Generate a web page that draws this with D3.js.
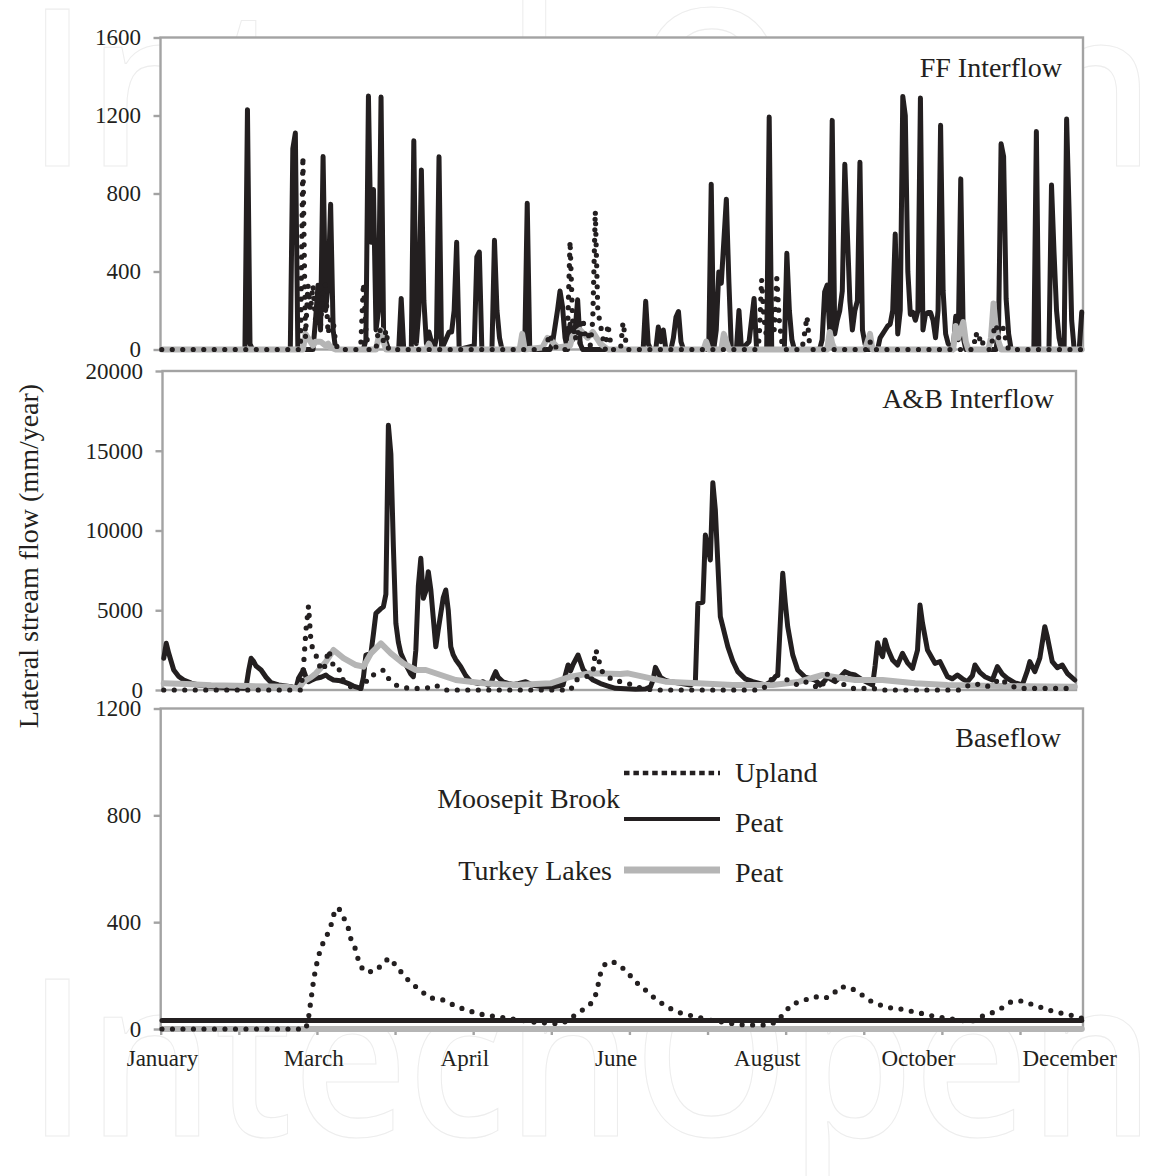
<!DOCTYPE html>
<html>
<head>
<meta charset="utf-8">
<script src="https://cdn.jsdelivr.net/npm/d3@7"></script>
<style>
  body { margin: 0; background: #fff; }
  svg text { font-family: "Liberation Serif", "Times New Roman", serif; fill: #231f20; }
</style>
</head>
<body>
<svg id="chart" width="1159" height="1176"></svg>
<script>
// --- data: [day of year, value] ---

const monthNames = ["January", "March", "April", "June", "August", "October", "December"];
const monthDays = [1, 61, 121, 181, 241, 301, 361];
const tickDays = [0.5, 31.5, 62.5, 93.5, 124.5, 155.5, 186.5, 217.5, 248.5, 279.5, 310.5, 341.5];

const ffTicks = [0, 400, 800, 1200, 1600];
const abTicks = [0, 5000, 10000, 15000, 20000];
const bfTicks = [0, 400, 800, 1200];

// FF interflow
const ffPeat = [
  [1,0],[34,0],[35,1230],[36,30],[37,0],
  [52,0],[53,1030],[54,1110],[55,0],
  [61,0],[62,150],[63,330],[64,100],[65,990],[66,200],[67,330],[68,745],[69,100],[70,0],
  [81,0],[82,50],[83,1300],[84,550],[85,820],[86,100],[87,200],[88,1295],[89,100],[90,40],[91,0],
  [95,0],[96,262],[97,0],
  [100,0],[101,1070],[102,30],[103,200],[104,921],[105,250],[106,30],[107,90],[108,40],[109,0],[110,60],[111,988],[112,0],
  [115,90],[116,90],[117,200],[118,550],[119,0],
  [125,20],[126,475],[127,500],[128,0],
  [132,0],[133,560],[134,200],[135,60],[136,0],
  [145,0],[146,750],[147,0],
  [155,0],[156,30],[158,200],[159,300],[160,220],[161,60],[162,0],[163,130],[164,50],[165,100],[166,255],[167,30],[168,0],
  [192,0],[193,247],[194,30],[195,0],
  [197,0],[198,115],[199,40],[200,100],[201,0],
  [203,0],[204,60],[205,165],[206,195],[207,40],[208,0],
  [218,0],[219,848],[220,0],[221,100],[222,398],[223,340],[225,771],[226,350],[227,0],
  [229,0],[230,200],[231,0],
  [234,40],[236,262],[237,0],
  [241,0],[242,1192],[243,0],
  [248,0],[249,493],[250,200],[251,50],[252,0],
  [262,0],[263,50],[264,295],[265,330],[266,100],[267,1175],[268,80],[269,150],[270,200],[271,300],[272,950],[273,600],[274,250],[275,100],[276,200],[277,250],[278,960],[279,100],[280,30],[281,0],
  [285,0],[286,60],[288,100],[289,120],[290,130],[291,200],[292,592],[293,80],[294,200],[295,1298],[296,1200],[297,400],[298,180],[299,190],[300,150],[301,200],[302,1290],[303,100],[304,180],[305,190],[306,190],[307,150],[308,60],[309,200],[310,1150],[311,300],[312,80],[313,30],
  [315,0],[316,170],[317,50],[318,875],[319,60],[320,0],
  [332,0],[333,100],[334,1055],[335,990],[336,260],[337,80],[338,0],
  [347,0],[348,1118],[349,0],
  [353,0],[354,844],[355,500],[356,200],[357,60],[358,0],
  [359,0],[360,1182],[361,700],[362,150],[363,0],[365,0],[366,192]
];
const ffUpland = [
  [1,0],[56,0],[57,990],[58,60],[59,330],[60,200],[61,330],[62,150],[63,290],[64,120],[65,330],[66,330],[67,80],[68,160],[69,150],[70,30],[71,0],
  [79,0],[80,30],[81,340],[82,100],[83,0],[86,0],[87,110],[88,90],[89,40],[90,100],[91,0],
  [153,0],[154,40],[155,80],[156,30],[157,20],[158,0],
  [161,0],[162,100],[163,557],[164,150],[165,50],[166,100],[167,30],[168,160],[169,80],[170,100],[171,20],[172,150],[173,710],[174,200],[175,130],[176,60],[177,0],[178,130],[179,40],[180,0],
  [183,0],[184,140],[185,50],[186,0],
  [237,0],[238,50],[239,360],[240,150],[241,60],[242,80],[243,200],[244,100],[245,365],[246,150],[247,40],[248,0],
  [255,0],[256,80],[257,170],[258,30],[259,0],
  [281,0],[282,40],[283,10],[284,0],
  [323,0],[324,85],[325,40],[326,70],[327,20],[328,0],
  [330,0],[331,90],[332,130],[333,60],[334,100],[335,110],[336,40],[337,0],
  [366,0]
];
const ffTurkey = [
  [1,0],[57,0],[58,80],[59,60],[60,40],[61,20],[62,40],[64,40],[66,20],[67,30],[68,10],[70,0],
  [86,0],[87,60],[88,100],[89,40],[90,0],
  [106,0],[107,30],[108,0],
  [143,0],[144,80],[145,0],
  [152,10],[154,60],[156,40],[158,10],
  [163,20],[164,70],[167,100],[170,60],[172,90],[175,30],[178,0],
  [216,0],[217,40],[218,0],
  [223,0],[224,80],[225,40],[226,0],
  [265,0],[266,90],[267,30],[268,0],
  [280,0],[281,40],[282,80],[283,0],
  [315,0],[316,120],[317,60],[319,140],[320,40],[321,0],
  [329,0],[330,60],[331,236],[332,100],[333,40],[334,0],
  [366,0]
];

// A&B interflow
const abPeat = [
  [1,1985],[2,2928],[3,2300],[5,1254],[7,850],[9,627],[12,430],[15,313],[20,220],[25,160],[30,120],[33,104],
  [34,200],[35,1200],[36,1987],[37,1800],[38,1500],[40,1254],[42,800],[44,460],[47,320],[52,209],[54,100],
  [55,733],[56,1000],[57,1254],[58,800],[59,522],[60,600],[62,733],[64,800],[66,940],[67,800],[69,627],[71,600],[73,520],[75,400],[77,250],[80,104],
  [81,800],[82,2194],[84,2298],[85,3500],[86,4807],[88,5100],[89,5224],[90,6000],[91,16600],[92,14800],[93,9000],[94,4180],[95,3000],[96,2298],[98,1600],[100,1000],[101,836],
  [102,2500],[103,6500],[104,8255],[105,5746],[106,6200],[107,7419],[108,6300],[109,4500],[110,2716],[111,3800],[112,4800],[113,5800],[114,6270],[115,5000],[116,2716],[117,2200],[118,1900],[120,1463],[122,900],[124,520],[126,450],[127,400],[129,520],[131,300],[132,400],[133,800],[134,1150],[135,800],[137,500],[139,418],[141,350],[143,400],[146,520],[149,300],[153,209],[157,200],[161,313],
  [162,1000],[163,1567],[164,1200],[165,1600],[167,2194],[169,1300],[171,900],[173,627],[176,400],[179,250],[182,104],[186,80],[190,50],[194,60],[196,200],[197,600],[198,1421],[200,800],[202,600],[204,522],[208,420],[212,313],[214,500],
  [215,5434],[217,5500],[218,9718],[220,8150],[221,12999],[222,11300],[224,4598],[227,2716],[229,1800],[231,1150],[234,700],[237,522],[240,400],[242,313],[244,500],[245,627],[246,836],[247,940],
  [249,7315],[250,5500],[251,3971],[253,2200],[255,1254],[258,800],[262,627],[264,313],[266,600],[267,940],[268,700],[270,522],[272,800],[274,1150],[276,1000],[278,940],[281,627],[285,313],
  [286,1500],[287,2967],[288,2400],[289,2090],[290,3135],[291,2600],[293,1880],[295,1567],[297,2298],[299,1700],[301,1358],[303,2500],[304,5329],[305,4200],[307,2507],[310,1672],[312,1776],[315,836],[317,700],[319,940],[321,700],[323,522],[325,900],[326,1567],[328,1100],[330,836],[333,627],[335,1463],[337,1000],[339,733],[342,450],[345,313],[347,1200],[348,1776],[350,1150],[352,2000],[354,3971],[355,3344],[357,1776],[359,1400],[361,1567],[363,1045],[366,627]
];
const abUpland = [
  [1,0],[56,0],[57,1500],[58,3800],[59,5265],[60,3000],[61,2400],[62,2194],[63,1600],[65,1212],[66,1777],[67,2508],[68,2000],[69,1500],[71,1463],[72,836],[74,400],[76,200],[78,100],[81,100],
  [83,836],[85,950],[87,1050],[89,1254],[91,733],[94,313],[97,150],[100,100],[106,100],[110,313],[112,100],[114,0],
  [164,0],[166,627],[168,700],[170,800],[172,1000],[173,1150],[174,2508],[175,2200],[176,1300],[178,900],[180,730],[182,730],[184,500],[187,420],[190,200],[193,100],[197,0],
  [240,0],[243,300],[246,1045],[248,800],[251,627],[255,313],[258,522],[261,300],[264,100],[266,600],[267,1045],[269,700],[271,500],[274,313],[277,100],[285,100],[290,0],
  [320,0],[322,200],[326,418],[330,200],[333,300],[336,733],[338,500],[340,313],[343,100],[366,100]
];
const abTurkey = [
  [1,418],[10,380],[20,300],[35,250],[50,200],[55,100],[57,522],[60,800],[62,1045],[64,1400],[66,1776],[69,2508],[73,2000],[78,1567],[81,1463],[84,2298],[88,2926],[92,2298],[97,1672],[102,1254],[106,1254],[112,940],[118,627],[129,418],[142,313],[156,418],[164,836],[172,1045],[184,1000],[187,1045],[193,836],[202,522],[215,418],[229,313],[245,313],[255,500],[265,940],[269,836],[278,627],[289,627],[302,418],[315,313],[330,260],[345,240],[366,209]
];

// Baseflow
const bfUpland = [
  [1,0],[58,0],[59,30],[60,100],[61,170],[62,229],[63,265],[64,305],[66,340],[68,385],[69,426],[71,455],[73,420],[75,376],[76,336],[78,295],[79,255],[81,217],[85,214],[88,237],[91,266],[94,237],[97,200],[100,171],[104,142],[107,117],[112,111],[116,93],[120,77],[125,62],[129,52],[134,46],[138,40],[143,34],[147,27],[151,24],[156,21],[160,21],
  [167,65],[171,93],[173,125],[174,162],[175,206],[177,246],[180,252],[184,227],[187,198],[190,168],[194,137],[197,111],[201,86],[205,65],[210,52],[214,44],[218,34],[223,27],[227,21],[232,15],[237,15],[241,15],[245,27],
  [248,61],[251,93],[255,105],[260,121],[264,115],[267,127],[270,158],[274,156],[278,133],[282,106],[286,90],[291,77],[295,74],[299,65],[304,55],[308,46],[313,40],[317,34],[322,27],
  [326,46],[330,59],[334,77],[338,102],[342,105],[346,93],[351,77],[355,65],[360,55],[364,46],[366,40]
];
const bfPeat = [[1,32],[366,32]];
const bfTurkey = [[1,0],[366,0]];

const legendGroups = ["Moosepit Brook", "Turkey Lakes"];
const legendItems = ["Upland", "Peat", "Peat"];

// --- layout ---
const svg = d3.select("#chart");
const ink = "#231f20", frameGrey = "#a3a3a3", seriesGrey = "#b5b5b5";

// faint publisher watermark behind the plots
[166, 1136].forEach(yb => {
  svg.append("text")
    .attr("x", 27).attr("y", yb)
    .attr("textLength", 1128).attr("lengthAdjust", "spacingAndGlyphs")
    .style("font-family", "'Open Sans', sans-serif").style("font-weight", 600)
    .style("font-size", "220px")
    .style("fill", "none").style("stroke", "#ededed").style("stroke-width", 1.1)
    .text("IntechOpen");
});

const panels = [
  { top: 37.5, bottom: 349.5, left: 160.5, right: 1083, ymax: 1600, ticks: ffTicks,
    title: "FF Interflow", tx: 1062, ty: 77, peat: ffPeat, turkey: ffTurkey, upland: ffUpland },
  { top: 371, bottom: 690, left: 162.5, right: 1076, ymax: 20000, ticks: abTicks,
    title: "A&B Interflow", tx: 1054, ty: 408, peat: abPeat, turkey: abTurkey, upland: abUpland },
  { top: 708.5, bottom: 1029, left: 160.7, right: 1083, ymax: 1200, ticks: bfTicks,
    title: "Baseflow", tx: 1061, ty: 747, peat: bfPeat, turkey: bfTurkey, upland: bfUpland }
];

panels.forEach((p, i) => {
  const x = d3.scaleLinear().domain([0.5, 366.5]).range([p.left, p.right]);
  const y = d3.scaleLinear().domain([0, p.ymax]).range([p.bottom, p.top]);
  const g = svg.append("g");

  g.append("rect")
    .attr("x", p.left).attr("y", p.top)
    .attr("width", p.right - p.left).attr("height", p.bottom - p.top)
    .attr("fill", "#fff").attr("stroke", frameGrey).attr("stroke-width", 2.4);

  const ya = g.append("g").attr("transform", `translate(${p.left},0)`)
    .call(d3.axisLeft(y).tickValues(p.ticks).tickFormat(d3.format("d"))
      .tickSize(7).tickPadding(12.5).tickSizeOuter(0));
  ya.select(".domain").remove();
  ya.selectAll("line").attr("stroke", frameGrey).attr("stroke-width", 2.4);
  ya.selectAll("text").style("font-size", "23px").attr("font-family", null).attr("fill", ink);

  if (i === 2) {
    const xa = g.append("g").attr("transform", `translate(0,${p.bottom})`)
      .call(d3.axisBottom(x).tickValues(tickDays).tickSize(6).tickFormat("").tickSizeOuter(0));
    xa.select(".domain").remove();
    xa.selectAll("line").attr("stroke", frameGrey).attr("stroke-width", 2.4);

    const xl = g.append("g").attr("transform", `translate(0,${p.bottom})`)
      .call(d3.axisBottom(x).tickValues(monthDays).tickSize(0).tickPadding(21)
        .tickFormat((d, k) => monthNames[k]));
    xl.select(".domain").remove();
    xl.selectAll("text").style("font-size", "23px").attr("font-family", null).attr("fill", ink);
  }

  const line = d3.line().x(d => x(d[0])).y(d => y(d[1]));

  g.append("path").datum(p.peat).attr("d", line)
    .attr("fill", "none").attr("stroke", ink).attr("stroke-width", 5)
    .attr("stroke-linejoin", "round").attr("stroke-linecap", "round");
  g.append("path").datum(p.turkey).attr("d", line)
    .attr("fill", "none").attr("stroke", seriesGrey).attr("stroke-width", 6)
    .attr("stroke-linejoin", "round").attr("stroke-linecap", "round");
  g.append("path").datum(p.upland).attr("d", line)
    .attr("fill", "none").attr("stroke", ink).attr("stroke-width", 5.2)
    .attr("stroke-dasharray", "0 10.5").attr("stroke-linecap", "round");

  g.append("text").attr("x", p.tx).attr("y", p.ty)
    .attr("text-anchor", "end").style("font-size", "28px").text(p.title);
});

// y-axis title
svg.append("text")
  .attr("transform", "translate(38,556) rotate(-90)")
  .attr("text-anchor", "middle").style("font-size", "28px")
  .text("Lateral stream flow (mm/year)");

// legend inside the baseflow panel
const lg = svg.append("g");
lg.append("text").attr("x", 620).attr("y", 808).attr("text-anchor", "end")
  .style("font-size", "28px").text(legendGroups[0]);
lg.append("text").attr("x", 612).attr("y", 880).attr("text-anchor", "end")
  .style("font-size", "28px").text(legendGroups[1]);

const legendRows = [
  { y: 773, dash: "5.5 3.9", color: ink, w: 4.6, ty: 782 },
  { y: 819, dash: null, color: ink, w: 3.8, ty: 832 },
  { y: 870, dash: null, color: seriesGrey, w: 7, ty: 882 }
];
legendRows.forEach((r, k) => {
  lg.append("line").attr("x1", 624).attr("x2", 720).attr("y1", r.y).attr("y2", r.y)
    .attr("stroke", r.color).attr("stroke-width", r.w)
    .attr("stroke-dasharray", r.dash);
  lg.append("text").attr("x", 735).attr("y", r.ty)
    .style("font-size", "28px").text(legendItems[k]);
});
</script>
</body>
</html>
